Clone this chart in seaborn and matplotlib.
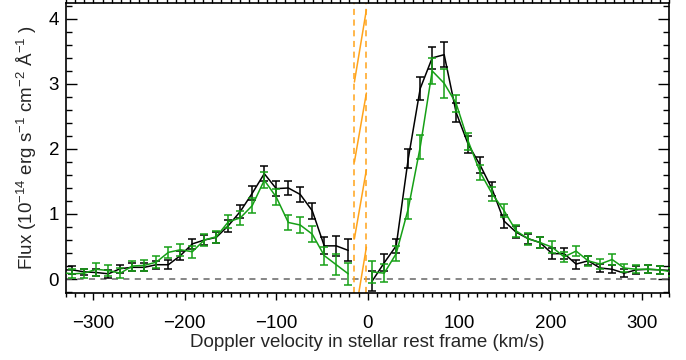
import numpy as np
import pandas as pd
import matplotlib
matplotlib.use("Agg")
import matplotlib.pyplot as plt
import seaborn as sns
from matplotlib.ticker import MultipleLocator

# ---------------- data ----------------
velocity = [-336.1, -323.0, -309.9, -296.8, -283.6, -270.5, -257.4, -244.3, -231.2, -218.0,
            -204.9, -191.8, -178.7, -165.6, -152.4, -139.3, -126.2, -113.1, -100.0, -86.8,
            -73.7, -60.6, -47.5, -34.4, -21.2,
            5.0, 18.1, 31.2, 44.4, 57.5, 70.6, 83.7, 96.8, 110.0, 123.1,
            136.2, 149.3, 162.4, 175.6, 188.7, 201.8, 214.9, 228.0, 241.2, 254.3,
            267.4, 280.5, 293.6, 306.8, 319.9, 333.0]

flux_black = [0.14, 0.14, 0.11, 0.10, 0.08, 0.16, 0.18, 0.18, 0.22, 0.22,
              0.36, 0.54, 0.60, 0.64, 0.82, 1.04, 1.32, 1.62, 1.39, 1.40,
              1.30, 1.05, 0.51, 0.51, 0.44,
              -0.03, 0.25, 0.51, 1.85, 2.93, 3.40, 3.45, 2.56, 2.07, 1.75,
              1.38, 0.89, 0.72, 0.62, 0.56, 0.39, 0.39, 0.23, 0.28, 0.17,
              0.15, 0.09, 0.14, 0.15, 0.14, 0.13]
err_black = [0.06, 0.06, 0.05, 0.05, 0.06, 0.06, 0.06, 0.06, 0.06, 0.07,
             0.07, 0.08, 0.08, 0.08, 0.09, 0.10, 0.11, 0.12, 0.11, 0.11,
             0.12, 0.12, 0.13, 0.15, 0.17,
             0.16, 0.13, 0.11, 0.15, 0.18, 0.17, 0.19, 0.15, 0.13, 0.12,
             0.11, 0.10, 0.09, 0.08, 0.08, 0.08, 0.08, 0.07, 0.07, 0.06,
             0.06, 0.06, 0.06, 0.06, 0.06, 0.06]

flux_green = [0.10, 0.08, 0.09, 0.15, 0.13, 0.09, 0.20, 0.21, 0.26, 0.41,
              0.45, 0.42, 0.60, 0.65, 0.88, 0.94, 1.13, 1.52, 1.26, 0.87,
              0.83, 0.69, 0.36, 0.22, 0.08,
              0.11, 0.09, 0.39, 1.08, 2.03, 3.20, 3.01, 2.70, 2.12, 1.64,
              1.31, 1.05, 0.74, 0.62, 0.56, 0.49, 0.34, 0.43, 0.28, 0.23,
              0.30, 0.17, 0.15, 0.15, 0.14, 0.11]
err_green = [0.07, 0.07, 0.07, 0.10, 0.08, 0.08, 0.08, 0.08, 0.09, 0.09,
             0.09, 0.09, 0.09, 0.09, 0.10, 0.11, 0.12, 0.12, 0.12, 0.12,
             0.12, 0.12, 0.14, 0.16, 0.17,
             0.17, 0.14, 0.12, 0.15, 0.18, 0.20, 0.22, 0.13, 0.13, 0.12,
             0.11, 0.10, 0.09, 0.09, 0.09, 0.09, 0.08, 0.08, 0.08, 0.08,
             0.08, 0.06, 0.06, 0.06, 0.06, 0.06]

# masked region (dashed orange bounds) and hatch lines
mask_bounds = [-14.5, -1.4]
hatch_start = [-0.62, 0.62, 1.80, 3.03]
hatch_end = [0.49, 1.68, 2.86, 4.14]

xticks = [-300, -200, -100, 0, 100, 200, 300]
yticks = [0, 1, 2, 3, 4]

# ---------------- plot ----------------
sns.set_theme(style="ticks")
plt.rcParams['font.family'] = ['Liberation Sans', 'DejaVu Sans']
plt.rcParams['mathtext.fontset'] = 'custom'
plt.rcParams['mathtext.rm'] = 'Liberation Sans'

BLACK = "#000000"
GREEN = "#16a016"
ORANGE = "#ffa31a"

df = pd.DataFrame({"v": velocity, "black": flux_black, "eb": err_black,
                   "green": flux_green, "eg": err_green})
df["seg"] = np.where(df["v"] < 0, 0, 1)

fig = plt.figure(figsize=(6.86, 3.60), dpi=100)
ax = fig.add_axes([0.0962, 0.1870, 0.8795, 0.8038])

ax.axhline(0, color="#666666", lw=1.1, ls=(0, (4, 3.5)), zorder=1)

for col, ecol, color in [("black", "eb", BLACK), ("green", "eg", GREEN)]:
    for s, sub in df.groupby("seg"):
        sns.lineplot(data=sub, x="v", y=col, ax=ax, color=color, lw=1.1,
                     estimator=None, sort=False, zorder=3)
        ax.errorbar(sub["v"], sub[col], yerr=sub[ecol], fmt="none",
                    ecolor=color, elinewidth=1.1, capsize=2.6, capthick=1.1, zorder=3)

for xb in mask_bounds:
    ax.axvline(xb, color=ORANGE, lw=1.1, ls=(0, (4, 3)), zorder=2)
for y0, y1 in zip(hatch_start, hatch_end):
    ax.plot(mask_bounds, [y0, y1], color=ORANGE, lw=1.1, zorder=2)

ax.set_xlim(-330, 330)
ax.set_ylim(-0.21, 4.24)
ax.set_xticks(xticks)
ax.set_yticks(yticks)
ax.xaxis.set_minor_locator(MultipleLocator(10))
ax.yaxis.set_minor_locator(MultipleLocator(0.2))
ax.set_xticklabels([str(t).replace("-", "\u2212") for t in xticks])
ax.tick_params(axis="x", which="both", direction="out", top=True, bottom=True,
               labelsize=13.5, width=1.0, colors="black", pad=10.5)
ax.tick_params(axis="x", which="major", length=5.3)
ax.tick_params(axis="x", which="minor", length=2.6)
ax.tick_params(axis="y", which="both", direction="in", left=True, right=True,
               labelsize=13.5, width=1.0, colors="black", pad=5)
ax.tick_params(axis="y", which="major", length=8)
ax.tick_params(axis="y", which="minor", length=4)
for sp in ax.spines.values():
    sp.set_linewidth(1.2)
    sp.set_color("black")

ax.set_xlabel("Doppler velocity in stellar rest frame (km/s)", fontsize=13.5, labelpad=2)
ax.set_ylabel(r"Flux (10$^{-14}$ erg s$^{-1}$ cm$^{-2}$ Å$^{-1}$ )", fontsize=13.5, labelpad=7)

fig.savefig("out.png", dpi=100)
